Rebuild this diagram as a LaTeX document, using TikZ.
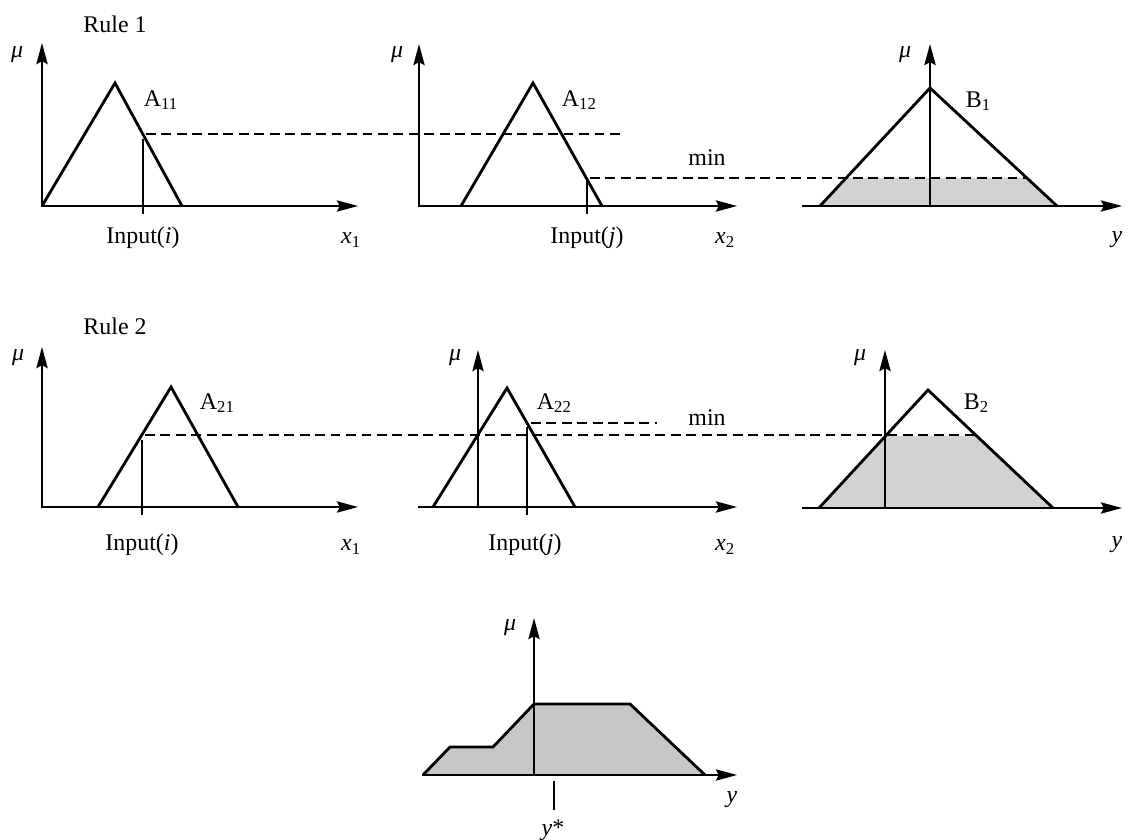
\documentclass[tikz,border=0pt]{standalone}
\usepackage{fontspec}
\setmainfont{Liberation Serif}
\usetikzlibrary{arrows.meta}

\tikzset{
  axis/.style={<->, line width=1.3pt},
  axisr/.style={->, line width=1.3pt},
  mf/.style={line width=2pt, line join=miter},
  level/.style={dash pattern=on 7pt off 4pt, line width=1pt},
  inp/.style={line width=1.1pt},
  cut/.style={fill=gray!35},
}

\begin{document}
\begin{tikzpicture}[x=0.025cm, y=-0.025cm, >={Stealth[length=15pt,width=8pt,inset=2pt]},
    font=\fontsize{17}{20}\selectfont]
    \useasboundingbox (0,0) rectangle (1130,840);

    % Rule 1, first input: A11
    \node (rule1) at (115,24) {Rule 1};
    \draw[axis] (42,43) |- (358,206);
    \node (mu11) at (17,55) {\textit{μ}};
    \draw[mf] (42,206) -- (115,83) -- (182,206);
    \node[anchor=west] (a11) at (139,100) {A\textsubscript{11}};
    \draw[inp] (143,214) -- (143,139);
    \node (in11) at (143,238) {Input(\textit{i})};
    \node (x11) at (351,240) {\textit{x}\textsubscript{1}};

    % Rule 1, second input: A12
    \draw[axis] (419,44) |- (737,206);
    \node (mu12) at (397,55) {\textit{μ}};
    \draw[mf] (461,206) -- (533,83) -- (602,206);
    \node[anchor=west] (a12) at (557,100) {A\textsubscript{12}};
    \draw[inp] (587,214) -- (587,181);
    \node (in12) at (587,238) {Input(\textit{j})};
    \node (x12) at (725,240) {\textit{x}\textsubscript{2}};
    \node (min1) at (707,158) {min};

    % Rule 1, output: B1
    \fill[cut] (820,206) -- (846,178) -- (1027,178) -- (1057,206) -- cycle;
    \draw[axisr] (802,206) -- (1122,206);
    \draw[axisr] (930,206) -- (930,44);
    \node (mu13) at (905,55) {\textit{μ}};
    \draw[mf] (820,206) -- (930,88) -- (1057,206);
    \node[anchor=west] (b1) at (961,101) {B\textsubscript{1}};
    \node (y13) at (1117,240) {\textit{y}};

    % Rule 1 levels
    \draw[level] (146,134) -- (622,134);
    \draw[level] (590,178) -- (1027,178);

    % Rule 2, first input: A21
    \node (rule2) at (115,326) {Rule 2};
    \draw[axis] (42,347) |- (358,507);
    \node (mu21) at (18,358) {\textit{μ}};
    \draw[mf] (98,507) -- (171,387) -- (238,507);
    \node[anchor=west] (a21) at (195,403) {A\textsubscript{21}};
    \draw[inp] (142,515) -- (142,440);
    \node (in21) at (142,545) {Input(\textit{i})};
    \node (x21) at (351,547) {\textit{x}\textsubscript{1}};

    % Rule 2, second input: A22
    \draw[axisr] (418,507) -- (737,507);
    \draw[axisr] (478,507) -- (478,350);
    \node (mu22) at (455,358) {\textit{μ}};
    \draw[mf] (433,507) -- (507,388) -- (575,507);
    \node[anchor=west] (a22) at (532,403) {A\textsubscript{22}};
    \draw[inp] (527,515) -- (527,427);
    \node (in22) at (525,545) {Input(\textit{j})};
    \node (x22) at (725,547) {\textit{x}\textsubscript{2}};
    \node (min2) at (707,418) {min};
    \draw[level] (531,423) -- (657,423);

    % Rule 2, output: B2
    \fill[cut] (819,508) -- (885,436) -- (977,436) -- (1053,508) -- cycle;
    \draw[axisr] (802,508) -- (1122,508);
    \draw[axisr] (885,508) -- (885,350);
    \node (mu23) at (860,358) {\textit{μ}};
    \draw[mf] (819,508) -- (928,390) -- (1053,508);
    \node[anchor=west] (b2) at (959,403) {B\textsubscript{2}};
    \node (y23) at (1117,545) {\textit{y}};

    % Rule 2 level
    \draw[level] (145,435) -- (977,435);

    % Aggregated output and y*
    \fill[cut, fill=gray!45] (423,775) -- (450,747) -- (493,747) -- (534,704)
        -- (630,704) -- (705,775) -- cycle;
    \draw[axisr] (422,775) -- (737,775);
    \draw[axisr] (534,775) -- (534,618);
    \draw[mf] (423,775) -- (450,747) -- (493,747) -- (534,704)
        -- (630,704) -- (705,775);
    \node (mu3) at (510,628) {\textit{μ}};
    \node (y3) at (732,800) {\textit{y}};
    \draw[inp] (554,781) -- (554,810);
    \node (ystar) at (553,830) {\textit{y}*};
\end{tikzpicture}
\end{document}
